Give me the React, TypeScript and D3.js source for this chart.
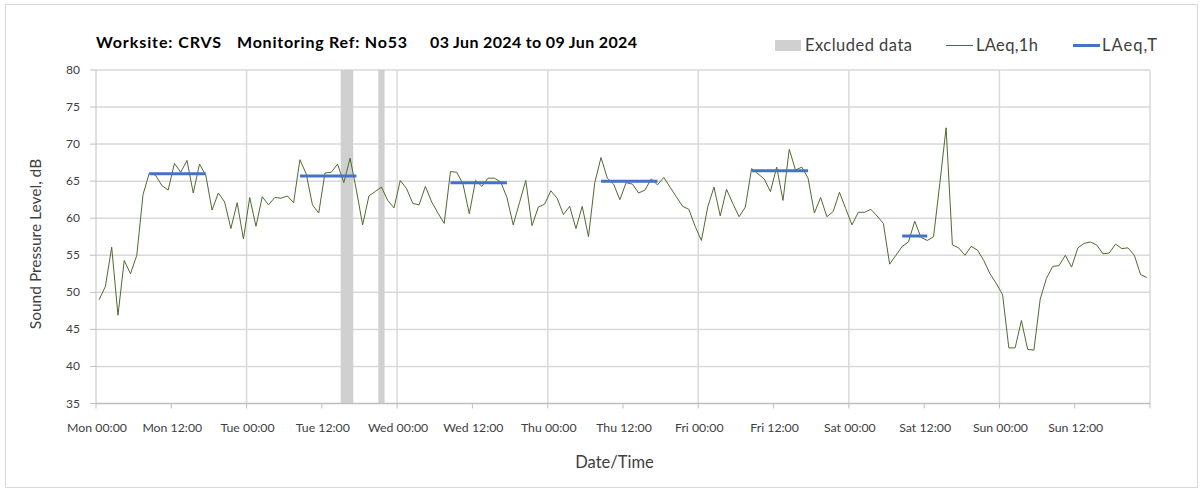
import React from "react";
import * as d3 from "d3";

// hourly LAeq,1h values, one array per day (00:00 .. 23:00)
const mon = [49.0, 50.8, 56.1, 46.9, 54.3, 52.5, 55.0, 63.2, 66.1, 65.8, 64.4, 63.8, 67.4, 66.2, 67.8, 63.4, 67.3, 65.8, 61.1, 63.4, 62.2, 58.6, 62.1, 57.2];
const tue = [62.8, 58.9, 62.9, 61.8, 62.8, 62.7, 63.0, 62.1, 67.9, 66.0, 61.8, 60.7, 66.1, 66.2, 67.3, 64.8, 68.1, 63.8, 59.1, 63.0, 63.6, 64.2, 62.4, 61.4];
const wed = [65.1, 64.0, 62.0, 61.8, 64.3, 62.2, 60.7, 59.3, 66.3, 66.2, 64.6, 60.6, 65.1, 64.3, 65.4, 65.4, 64.9, 62.8, 59.1, 62.1, 65.1, 59.0, 61.5, 61.9];
const thu = [63.7, 62.7, 60.5, 61.6, 58.6, 61.6, 57.5, 64.8, 68.2, 65.4, 64.6, 62.5, 64.8, 64.6, 63.4, 63.8, 65.3, 64.5, 65.5, 64.2, 62.9, 61.6, 61.2, 58.9];
const fri = [57.0, 61.5, 64.2, 60.3, 63.9, 62.0, 60.2, 61.5, 66.7, 66.0, 65.3, 63.6, 66.9, 62.4, 69.3, 66.5, 66.9, 65.4, 60.7, 62.8, 60.2, 60.9, 63.5, 61.3];
const sat = [59.1, 60.8, 60.8, 61.2, 60.3, 59.3, 53.8, 55.0, 56.2, 56.8, 59.6, 57.4, 57.0, 57.5, 64.7, 72.2, 56.4, 56.0, 55.0, 56.2, 55.7, 54.3, 52.5, 51.2];
const sun = [49.7, 42.5, 42.5, 46.2, 42.3, 42.2, 49.1, 51.9, 53.5, 53.6, 55.0, 53.4, 56.0, 56.6, 56.8, 56.4, 55.2, 55.3, 56.5, 55.9, 56.0, 55.0, 52.4, 52.0];

// LAeq,T periods (hour from week start)
const periodStart = [8, 32, 56, 80, 104, 128];
const periodEnd = [17, 41, 65, 89, 113, 132];
const laeqT = [66.0, 65.7, 64.8, 65.0, 66.4, 57.6];

// excluded data (hour from week start)
const excludedStart = [39, 45];
const excludedEnd = [41, 46];

const xTickLabels = [
  "Mon 00:00", "Mon 12:00", "Tue 00:00", "Tue 12:00", "Wed 00:00", "Wed 12:00", "Thu 00:00",
  "Thu 12:00", "Fri 00:00", "Fri 12:00", "Sat 00:00", "Sat 12:00", "Sun 00:00", "Sun 12:00",
];
const yTicks = [35, 40, 45, 50, 55, 60, 65, 70, 75, 80];

const FONT = "Lato, 'Open Sans', sans-serif";
const GRID = "#d9d9d9";
const AXIS = "#bfbfbf";
const TEXT = "#404040";

export default function App() {
  const values = [...mon, ...tue, ...wed, ...thu, ...fri, ...sat, ...sun];
  const left = 96;
  const right = 1150;
  const top = 70;
  const bottom = 403.5;

  const x = d3.scaleLinear().domain([0, 168]).range([left, right]);
  const y = d3.scaleLinear().domain([35, 80]).range([bottom, top]);

  const line = d3
    .line<number>()
    .x((d, i) => x(i + 0.5))
    .y((d) => y(d));

  const dayTicks = d3.range(24, 169, 24);
  const halfTicks = d3.range(0, 169, 12);

  return (
    <svg width={1203} height={491} style={{ position: "absolute", left: 0, top: 0 }} fontFamily={FONT}>
      <rect x={5.5} y={4.5} width={1192} height={483} fill="#fff" stroke={GRID} />

      {/* title */}
      <g fontWeight="bold" fontSize={16} fill="#000">
        <text x={96} y={48} textLength={125} lengthAdjust="spacing">Worksite: CRVS</text>
        <text x={237} y={48} textLength={170} lengthAdjust="spacing">Monitoring Ref: No53</text>
        <text x={430} y={48} textLength={207} lengthAdjust="spacing">03 Jun 2024 to 09 Jun 2024</text>
      </g>

      {/* legend */}
      <g fontSize={16.5} fill={TEXT}>
        <rect x={775} y={40} width={26} height={11} fill="#d0d0d0" />
        <text x={805} y={51} textLength={107} lengthAdjust="spacing">Excluded data</text>
        <line x1={946} x2={973} y1={45.5} y2={45.5} stroke="#4f6b2f" strokeWidth={1} />
        <text x={976} y={51} textLength={62} lengthAdjust="spacing">LAeq,1h</text>
        <line x1={1073} x2={1100} y1={45.5} y2={45.5} stroke="#4472c4" strokeWidth={3} />
        <text x={1102} y={51} textLength={55} lengthAdjust="spacing">LAeq,T</text>
      </g>

      {/* grid */}
      {yTicks.slice(1).map((t) => (
        <line key={"h" + t} x1={left} x2={right} y1={y(t)} y2={y(t)} stroke={GRID} strokeWidth={1.5} />
      ))}
      {dayTicks.map((t) => (
        <line key={"v" + t} x1={x(t)} x2={x(t)} y1={top} y2={bottom} stroke={GRID} strokeWidth={1.5} />
      ))}

      {/* excluded bands */}
      {excludedStart.map((s, i) => (
        <rect key={"e" + i} x={x(s)} y={top} width={x(excludedEnd[i]) - x(s)} height={bottom - top} fill="#d0d0d0" />
      ))}

      {/* axes */}
      <line x1={left} x2={left} y1={top} y2={bottom} stroke={AXIS} />
      <line x1={left} x2={right} y1={bottom} y2={bottom} stroke={AXIS} strokeWidth={1.5} />
      {yTicks.map((t) => (
        <g key={"yt" + t}>
          <line x1={left - 6} x2={left} y1={y(t)} y2={y(t)} stroke={AXIS} />
          <text x={left - 16} y={y(t) + 4} textAnchor="end" fontSize={12} fill={TEXT}>
            {t}
          </text>
        </g>
      ))}
      {halfTicks.map((t, i) => (
        <g key={"xt" + t}>
          <line x1={x(t)} x2={x(t)} y1={bottom} y2={bottom + 5} stroke={AXIS} />
          {xTickLabels[i] && (
            <text x={x(t) + 1} y={bottom + 28} textAnchor="middle" fontSize={12.3} fill={TEXT}>
              {xTickLabels[i]}
            </text>
          )}
        </g>
      ))}

      {/* series */}
      <path d={line(values) || ""} fill="none" stroke="#4f6b2f" strokeWidth={1} strokeLinejoin="round" />
      {periodStart.map((s, i) => (
        <line
          key={"p" + i}
          x1={x(s + 0.5)}
          x2={x(periodEnd[i] + 0.5)}
          y1={y(laeqT[i])}
          y2={y(laeqT[i])}
          stroke="#4472c4"
          strokeWidth={3}
        />
      ))}

      {/* axis titles */}
      <text
        transform={`translate(41,244) rotate(-90)`}
        textAnchor="middle"
        fontSize={15.5}
        fill={TEXT}
      >
        Sound Pressure Level, dB
      </text>
      <text x={614.5} y={468} textAnchor="middle" fontSize={16.5} fill={TEXT}>
        Date/Time
      </text>
    </svg>
  );
}
